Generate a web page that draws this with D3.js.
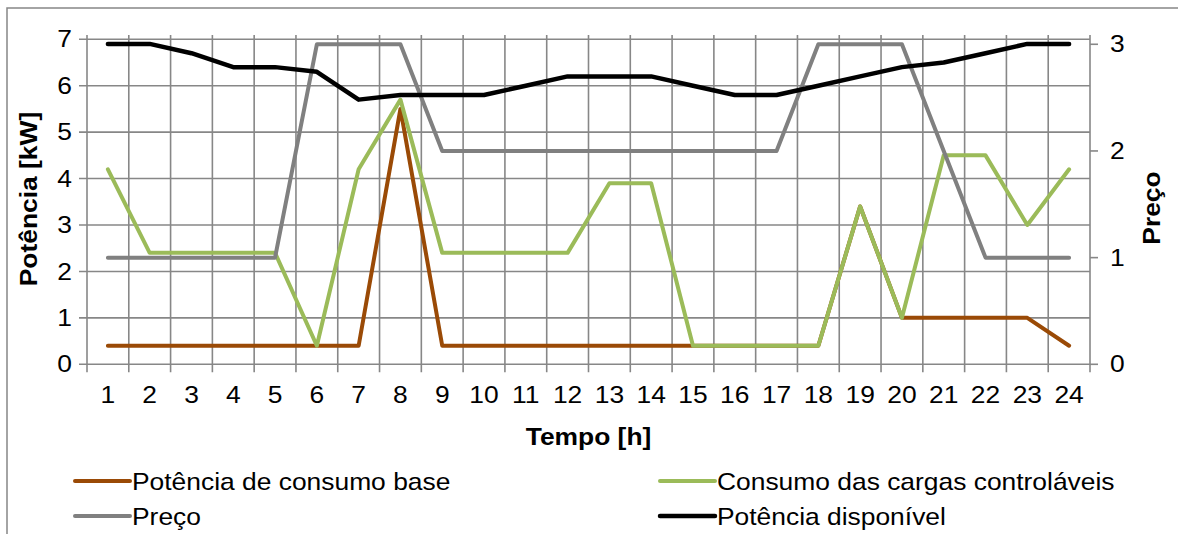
<!DOCTYPE html>
<html>
<head>
<meta charset="utf-8">
<script src="https://cdn.jsdelivr.net/npm/d3@7/dist/d3.min.js"></script>
<style>
  html, body { margin: 0; padding: 0; background: #fff; }
  svg { display: block; }
  text { font-family: "Liberation Sans", Arial, sans-serif; fill: #000; }
</style>
</head>
<body>
<svg id="chart" width="1178" height="534"></svg>
<script>
// ---- data ----
const hours = [1,2,3,4,5,6,7,8,9,10,11,12,13,14,15,16,17,18,19,20,21,22,23,24];
const consumoBase   = [0.4,0.4,0.4,0.4,0.4,0.4,0.4,5.5,0.4,0.4,0.4,0.4,0.4,0.4,0.4,0.4,0.4,0.4,3.4,1.0,1.0,1.0,1.0,0.4];
const cargasControl = [4.2,2.4,2.4,2.4,2.4,0.4,4.2,5.7,2.4,2.4,2.4,2.4,3.9,3.9,0.4,0.4,0.4,0.4,3.4,1.0,4.5,4.5,3.0,4.2];
const preco         = [1,1,1,1,1,3,3,3,2,2,2,2,2,2,2,2,2,3,3,3,2,1,1,1];
const potDisponivel = [6.9,6.9,6.7,6.4,6.4,6.3,5.7,5.8,5.8,5.8,6.0,6.2,6.2,6.2,6.0,5.8,5.8,6.0,6.2,6.4,6.5,6.7,6.9,6.9];
const leftTicks  = [0,1,2,3,4,5,6,7];
const rightTicks = [0,1,2,3];
const seriesNames = ["Potência de consumo base", "Consumo das cargas controláveis", "Preço", "Potência disponível"];
const seriesColors = ["#9a4a06", "#9bbb59", "#808080", "#000000"];

// ---- layout ----
const svg = d3.select("#chart");
const L = 87, R = 1090, T = 35, B = 364.3;
const gridColor = "#878787";
const FS = 24, SX = 1.1;

const x = d3.scaleBand().domain(hours).range([L, R]).padding(0);
const bw = x.bandwidth();
const cx = h => x(h) + bw / 2;
const yL = d3.scaleLinear().domain([0, 7.092]).range([B, T]);
const yR = d3.scaleLinear().domain([0, 3.087]).range([B, T]);

// outer border
svg.append("rect").attr("x", 7).attr("y", 8).attr("width", 1200).attr("height", 600)
  .attr("fill", "none").attr("stroke", gridColor).attr("stroke-width", 1.5);

// vertical gridlines (band boundaries) with tick extension below
const bounds = hours.map(h => x(h)).concat([R]);
svg.append("g").selectAll("line").data(bounds).join("line")
  .attr("x1", d => d).attr("x2", d => d).attr("y1", T).attr("y2", B + 8)
  .attr("stroke", gridColor).attr("stroke-width", 1.6);

// horizontal gridlines with left tick extension
svg.append("g").selectAll("line").data(leftTicks).join("line")
  .attr("x1", L - 8).attr("x2", R).attr("y1", d => yL(d)).attr("y2", d => yL(d))
  .attr("stroke", gridColor).attr("stroke-width", 1.6);

// right axis ticks
svg.append("g").selectAll("line").data(rightTicks).join("line")
  .attr("x1", R).attr("x2", R + 8).attr("y1", d => yR(d)).attr("y2", d => yR(d))
  .attr("stroke", gridColor).attr("stroke-width", 1.6);

// horizontally stretch axis tick labels around their anchor
function stretchTicks(axisG, dx, dy) {
  axisG.select(".domain").remove();
  axisG.selectAll(".tick text").each(function() {
    const t = d3.select(this);
    t.attr("x", null).attr("y", null)
     .attr("transform", `translate(${dx},${dy}) scale(${SX},1)`)
     .style("font-size", FS + "px")
     .style("font-family", '"Liberation Sans", Arial, sans-serif')
     .attr("fill", "#000");
  });
}
const axL = svg.append("g").attr("transform", `translate(${L},0)`)
  .call(d3.axisLeft(yL).tickValues(leftTicks).tickSize(0).tickFormat(d3.format("d")));
stretchTicks(axL, -15, 0);
const axR = svg.append("g").attr("transform", `translate(${R},0)`)
  .call(d3.axisRight(yR).tickValues(rightTicks).tickSize(0).tickFormat(d3.format("d")));
stretchTicks(axR, 20, 0);
const axB = svg.append("g").attr("transform", `translate(0,${B})`)
  .call(d3.axisBottom(x).tickSize(0));
stretchTicks(axB, 0, 22);

// stretched text helper
function label(px, py, rot, txt, bold, size, anchor) {
  const gg = svg.append("g").attr("transform", `translate(${px},${py}) rotate(${rot}) scale(${SX},1)`);
  const t = gg.append("text").attr("text-anchor", anchor || "middle")
    .style("font-size", size + "px").text(txt);
  if (bold) t.style("font-weight", "bold");
  return t;
}

// axis titles
label((L + R) / 2, 445, 0, "Tempo [h]", true, FS);
label(37, 199, -90, "Potência [kW]", true, FS);
label(1160, 208, -90, "Preço", true, FS);

// lines
const lineL = d3.line().x((d, i) => cx(hours[i])).y(d => yL(d));
const lineR = d3.line().x((d, i) => cx(hours[i])).y(d => yR(d));
const g = svg.append("g").attr("fill", "none").attr("stroke-linejoin", "round").attr("stroke-linecap", "round");
g.append("path").datum(consumoBase).attr("d", lineL).attr("stroke", seriesColors[0]).attr("stroke-width", 4);
g.append("path").datum(cargasControl).attr("d", lineL).attr("stroke", seriesColors[1]).attr("stroke-width", 4);
g.append("path").datum(preco).attr("d", lineR).attr("stroke", seriesColors[2]).attr("stroke-width", 4);
g.append("path").datum(potDisponivel).attr("d", lineL).attr("stroke", seriesColors[3]).attr("stroke-width", 4.5);

// legend
const legendPos = [[75, 481], [660, 481], [75, 516], [660, 516]];
seriesNames.forEach((name, i) => {
  const [lx, ly] = legendPos[i];
  svg.append("line").attr("x1", lx).attr("x2", lx + 55).attr("y1", ly).attr("y2", ly)
    .attr("stroke", seriesColors[i]).attr("stroke-width", i === 3 ? 4.5 : 4).attr("stroke-linecap", "round");
  label(lx + 57, ly + 8.5, 0, name, false, FS, "start");
});
</script>
</body>
</html>
